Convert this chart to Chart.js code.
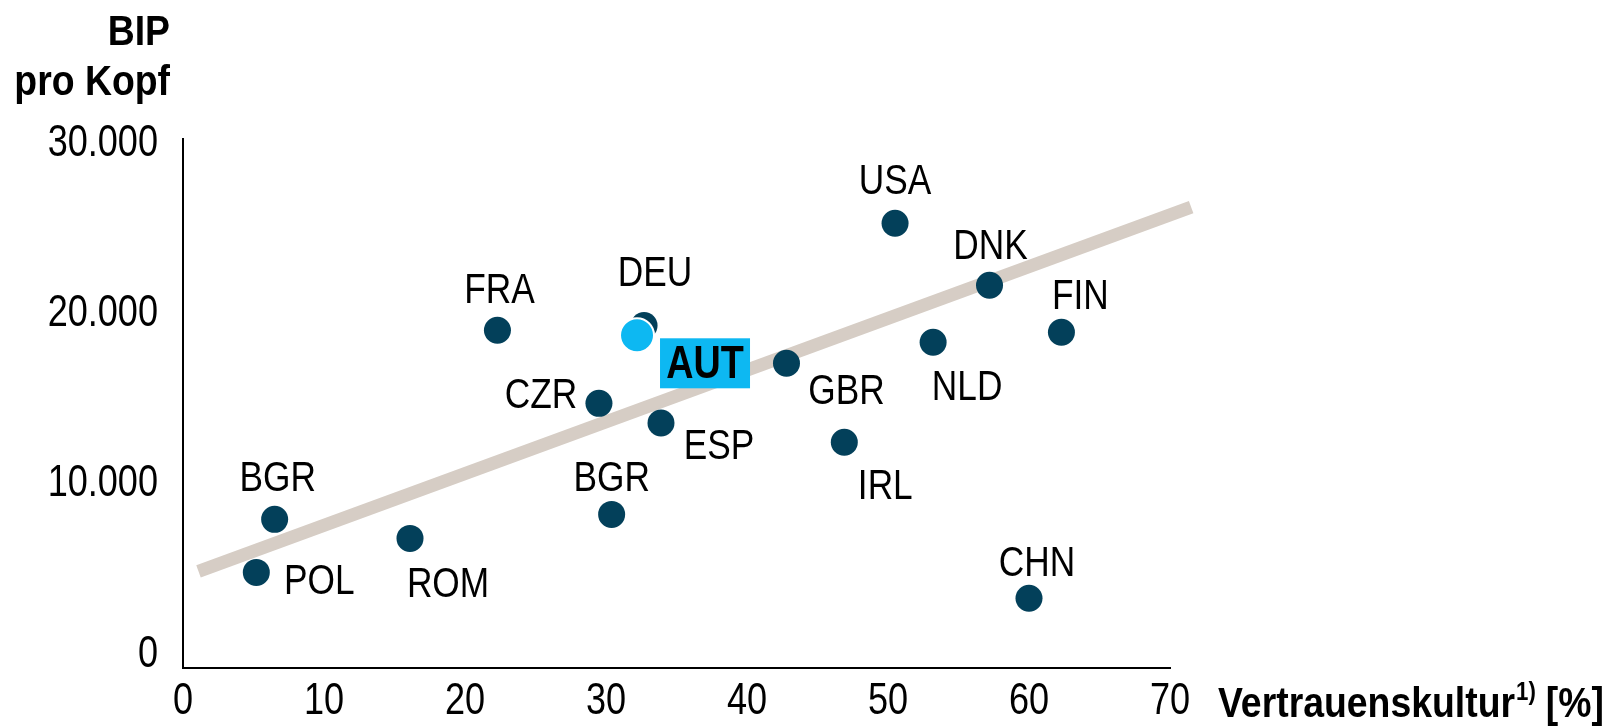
<!DOCTYPE html>
<html>
<head>
<meta charset="utf-8">
<script src="https://cdn.jsdelivr.net/npm/chart.js@4/dist/chart.umd.min.js"></script>
<style>
  body { margin: 0; background: #fff; }
  #wrap { width: 1616px; height: 727px; }
</style>
</head>
<body>
<div id="wrap"><canvas id="scatterChart" width="1616" height="727"></canvas></div>
<script>
// Countries, trust culture (%) and GDP per capita
const countries = ['BGR', 'POL', 'ROM', 'FRA', 'CZR', 'BGR', 'DEU', 'ESP', 'GBR', 'IRL', 'USA', 'NLD', 'DNK', 'CHN', 'FIN'];
const trust = [6.5, 5.2, 16.1, 22.3, 29.5, 30.4, 32.7, 33.9, 42.8, 46.9, 50.5, 53.2, 57.2, 60.0, 62.3];
const gdp = [7940, 4820, 6820, 19060, 14760, 8230, 19330, 13600, 17120, 12470, 25350, 18350, 21700, 3300, 18940];

// Highlighted country
const highlight = 'AUT';
const highlightTrust = 32.2;
const highlightGdp = 18760;

// Trend line end points
const trendX = [1.1, 71.5];
const trendY = [4880, 26290];

const xTicks = [0, 10, 20, 30, 40, 50, 60, 70];
const yTicks = [0, 10000, 20000, 30000];

// label offsets from the dot (px), style only
const labelOffsets = [[3, -40], [63, 10], [38, 47], [2, -39], [-58, -7], [0, -35], [11, -51], [58, 24],
  [60, 29], [41, 45], [0, -41], [34, 46], [1, -38], [8, -34], [19, -35]];

const FONT = '"Liberation Sans", Arial, sans-serif';
const SQUEEZE = 0.82;      // narrow look, regular
const SQUEEZE_BOLD = 0.89; // narrow look, bold
const DARK = '#03405a';
const LIGHT = '#0db8f2';

function narrowText(ctx, str, x, y, align, k) {
  ctx.save();
  ctx.translate(x, y);
  ctx.scale(k || SQUEEZE, 1);
  ctx.textAlign = align;
  ctx.fillText(str, 0, 0);
  ctx.restore();
}

const labelPlugin = {
  id: 'labels',
  afterDatasetsDraw(chart) {
    const ctx = chart.ctx;
    ctx.save();
    ctx.fillStyle = '#000';
    ctx.textBaseline = 'middle';

    // tick labels from the scales
    ctx.font = '44px ' + FONT;
    const xs = chart.scales.x, ys = chart.scales.y;
    xs.ticks.forEach(t => narrowText(ctx, String(t.value), xs.getPixelForValue(t.value), 702, 'center'));
    ys.ticks.forEach(t => narrowText(ctx, t.value.toLocaleString('de-DE'), 158, ys.getPixelForValue(t.value), 'right'));

    // country labels
    ctx.font = '43px ' + FONT;
    const meta = chart.getDatasetMeta(0);
    meta.data.forEach((pt, i) => {
      narrowText(ctx, countries[i], pt.x + labelOffsets[i][0], pt.y + labelOffsets[i][1], 'center');
    });

    // highlighted label box
    const hp = chart.getDatasetMeta(1).data[0];
    const bx = hp.x + 23, by = hp.y + 3;
    ctx.fillStyle = LIGHT;
    ctx.fillRect(bx, by, 90, 50);
    ctx.fillStyle = '#000';
    ctx.font = 'bold 46px ' + FONT;
    narrowText(ctx, highlight, bx + 45, by + 27, 'center');

    // axis titles
    ctx.textBaseline = 'alphabetic';
    ctx.font = 'bold 42px ' + FONT;
    narrowText(ctx, 'BIP', 170, 45, 'right', SQUEEZE_BOLD);
    narrowText(ctx, 'pro Kopf', 170, 95, 'right', SQUEEZE_BOLD);

    let x = 1218;
    const base = 717;
    narrowText(ctx, 'Vertrauenskultur', x, base, 'left', SQUEEZE_BOLD);
    x += ctx.measureText('Vertrauenskultur').width * SQUEEZE_BOLD + 1;
    ctx.font = 'bold 25px ' + FONT;
    narrowText(ctx, '1)', x, base - 17, 'left', SQUEEZE_BOLD);
    x += ctx.measureText('1)').width * SQUEEZE_BOLD + 10;
    ctx.font = 'bold 42px ' + FONT;
    narrowText(ctx, '[%]', x, base, 'left', SQUEEZE_BOLD);
    ctx.restore();
  }
};

const ctx = document.getElementById('scatterChart').getContext('2d');
const chart = new Chart(ctx, {
  type: 'scatter',
  data: {
    datasets: [
      {
        data: trust.map((t, i) => ({ x: t, y: gdp[i] })),
        backgroundColor: DARK,
        borderWidth: 0,
        pointRadius: 13.5,
        pointHoverRadius: 13.5,
        order: 2
      },
      {
        data: [{ x: highlightTrust, y: highlightGdp }],
        backgroundColor: LIGHT,
        borderColor: '#fff',
        borderWidth: 2,
        pointRadius: 17,
        pointHoverRadius: 17,
        order: 1
      },
      {
        type: 'line',
        data: trendX.map((t, i) => ({ x: t, y: trendY[i] })),
        borderColor: '#d6cdc5',
        borderWidth: 13,
        pointRadius: 0,
        clip: false,
        order: 3
      }
    ]
  },
  options: {
    responsive: false,
    animation: false,
    events: [],
    layout: { padding: { left: 0, right: 446, top: 139, bottom: 0 } },
    plugins: { legend: { display: false }, tooltip: { enabled: false } },
    scales: {
      x: {
        type: 'linear',
        min: 0,
        max: 70,
        afterBuildTicks: s => { s.ticks = xTicks.map(v => ({ value: v })); },
        afterFit: s => { s.height = 727 - 668; },
        grid: { display: false, drawTicks: false },
        border: { color: '#000', width: 2 },
        ticks: { display: false }
      },
      y: {
        min: -800,
        max: 30300,
        afterBuildTicks: s => { s.ticks = yTicks.map(v => ({ value: v })); },
        afterFit: s => { s.width = 183; },
        grid: { display: false, drawTicks: false },
        border: { color: '#000', width: 2 },
        ticks: { display: false }
      }
    }
  },
  plugins: [labelPlugin]
});
</script>
</body>
</html>
